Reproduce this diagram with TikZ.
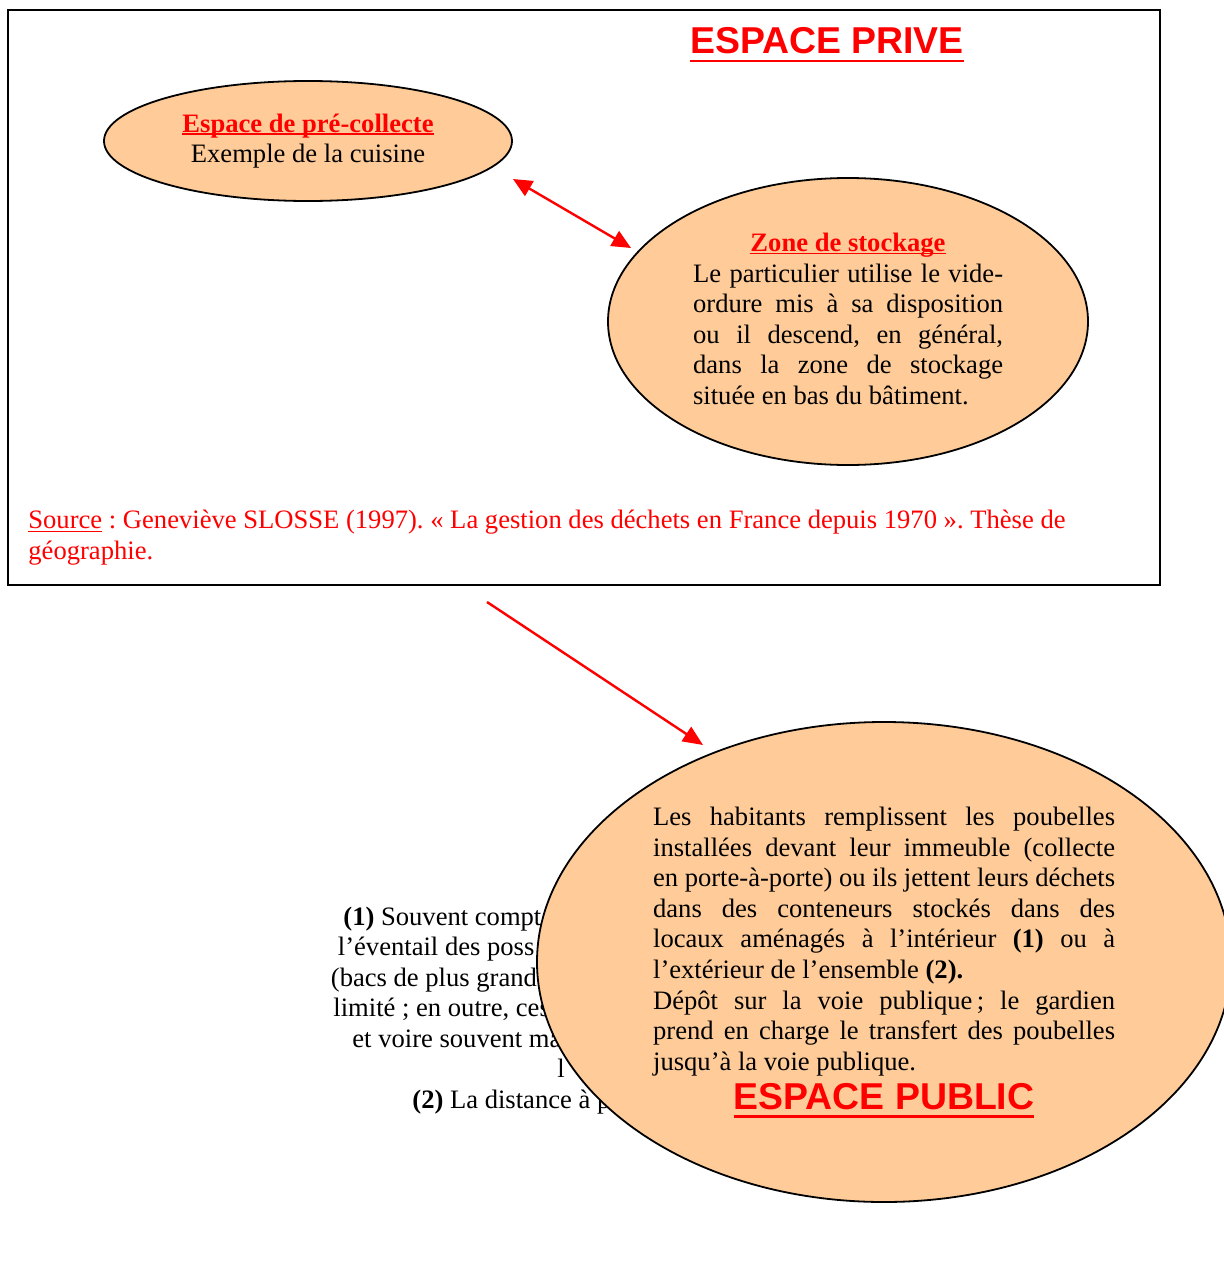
\documentclass[tikz,border=0pt]{standalone}
\usepackage{fontspec}
\setmainfont{Liberation Serif}
\newfontfamily\arialf{Liberation Sans}
\usetikzlibrary{shapes.geometric,arrows.meta}
\definecolor{peach}{HTML}{FFCC99}
\frenchspacing
\newcommand\myul[3]{\setbox0=\hbox{#3}\rlap{\rule[-#1]{\wd0}{#2}}\box0\relax}
\newcommand\jl[2]{\makebox[#1][s]{#2}}
\newcommand\bodyf{\fontsize{13.3}{15.3}\selectfont}
\newcommand\titlef{\arialf\bfseries\fontsize{18.7}{22}\selectfont}
\begin{document}
\begin{tikzpicture}[x=0.5pt,y=-0.5pt,
  blob/.style={ellipse,draw=black,line width=0.9pt,fill=peach,inner sep=0pt},
  redarrow/.style={draw=red,line width=1.2pt},
  body/.style={inner sep=0pt,font=\bodyf,text=black},
  redtitle/.style={inner sep=0pt,font=\titlef,text=red}]
\useasboundingbox (0,0) rectangle (1224,1274);
% frame of the private space
\draw[line width=1pt] (8,10) rectangle (1160,585);
\node[redtitle,anchor=base] (tprive) at (827,54) {\myul{4.2pt}{1.3pt}{ESPACE PRIVE}};
% pre-collecte ellipse
\node[blob,minimum width=204pt,minimum height=60pt] (pre) at (308,141) {};
\node[body,anchor=base,text=red,font=\bodyf\bfseries] (pret) at (308,132) {\myul{1.4pt}{0.8pt}{Espace de pré-collecte}};
\node[body,anchor=base] (prex) at (308,162) {Exemple de la cuisine};
% stockage ellipse
\node[blob,minimum width=240pt,minimum height=143.5pt] (stock) at (848,321.5) {};
\node[body,anchor=base,text=red,font=\bodyf\bfseries] (stockt) at (848,251.5) {\myul{1.4pt}{0.8pt}{Zone de stockage}};
\node[body,anchor=north west,align=left] (stockb) at (692.7,257.7) {\rule{0pt}{12pt}\jl{155pt}{Le particulier utilise le vide-}\\
\jl{155pt}{ordure mis à sa disposition}\\
\jl{155pt}{ou il descend, en général,}\\
\jl{155pt}{dans la zone de stockage}\\
située en bas du bâtiment.};
% source
\node[body,anchor=north west,align=left,text=red,font=\fontsize{13.3}{15.5}\selectfont] (src) at (28,504.3) {\rule{0pt}{12pt}\myul{1.8pt}{0.7pt}{Source} : Geneviève SLOSSE (1997). «~La gestion des déchets en France depuis 1970~». Thèse de\\
géographie.};
% partially hidden notes
\node[body,anchor=base west] (h1) at (343,925) {\textbf{(1)} Souvent compt};
\node[body,anchor=base west] (h2) at (337.5,955.5) {l’éventail des poss};
\node[body,anchor=base west] (h3) at (330.5,986) {(bacs de plus grand};
\node[body,anchor=base west] (h4) at (333,1016.5) {limité ; en outre, ces};
\node[body,anchor=base west] (h5) at (352,1047) {et voire souvent ma};
\node[body,anchor=base west] (h6) at (557,1077.5) {l};
\node[body,anchor=base west] (h7) at (412,1108) {\textbf{(2)} La distance à p};
% public ellipse
\node[blob,minimum width=347pt,minimum height=240pt] (pub) at (884,962) {};
\node[body,anchor=north west,align=left] (pubb) at (652.7,801) {\rule{0pt}{12pt}\jl{231pt}{Les habitants remplissent les poubelles}\\
\jl{231pt}{installées devant leur immeuble (collecte}\\
\jl{231pt}{en porte-à-porte) ou ils jettent leurs déchets}\\
\jl{231pt}{dans des conteneurs stockés dans des}\\
\jl{231pt}{locaux aménagés à l’intérieur \textbf{(1)} ou à}\\
l’extérieur de l’ensemble \textbf{(2).}\\
\jl{231pt}{Dépôt sur la voie publique\,; le gardien}\\
\jl{231pt}{prend en charge le transfert des poubelles}\\
jusqu’à la voie publique.};
\node[redtitle,anchor=base] (tpub) at (884,1109) {\myul{4.4pt}{1.3pt}{ESPACE PUBLIC}};
% arrows
\coordinate (a1) at (513,179);
\coordinate (a2) at (631,248);
\coordinate (b1) at (487,602);
\coordinate (b2) at (703,745);
\draw[redarrow,{Triangle[length=9.5pt,width=8.5pt]}-{Triangle[length=9.5pt,width=8.5pt]}] (a1) -- (a2);
\draw[redarrow,-{Triangle[length=10pt,width=8.5pt]}] (b1) -- (b2);
\end{tikzpicture}
\end{document}
